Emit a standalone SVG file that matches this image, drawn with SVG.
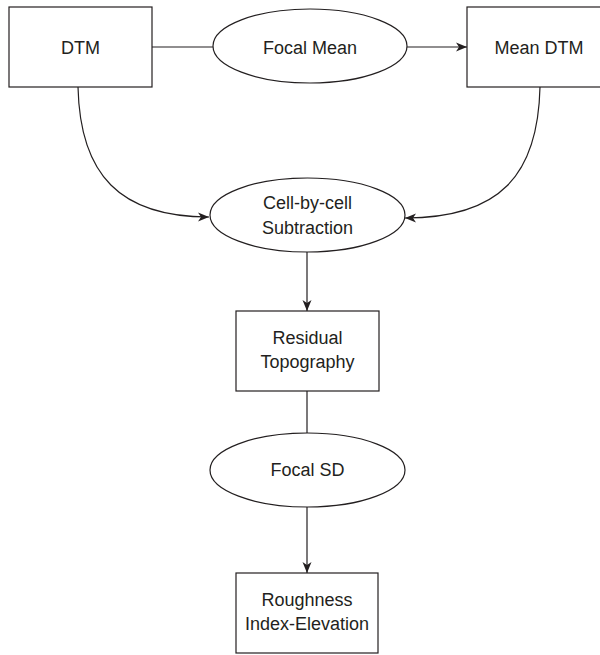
<svg xmlns="http://www.w3.org/2000/svg" width="600" height="655" viewBox="0 0 600 655">
<style>
.box{fill:#fff;stroke:#231f20;stroke-width:1.2}
.el{fill:#fff;stroke:#231f20;stroke-width:1.2}
.ln{fill:none;stroke:#231f20;stroke-width:1.2}
text{font-family:"Liberation Sans",Arial,sans-serif;font-size:18px;fill:#231f20;text-anchor:middle}
</style>
<defs>
<marker id="ah" markerWidth="12" markerHeight="10" refX="11" refY="5" orient="auto" markerUnits="userSpaceOnUse">
<path d="M0,0.5 L11,5 L0,9.5 L3,5 z" fill="#231f20"/>
</marker>
</defs>
<rect width="600" height="655" fill="#fff"/>
<g id="connectors">
<line class="ln" x1="152" y1="47" x2="213" y2="47"/>
<line class="ln" x1="407" y1="47" x2="467" y2="47" marker-end="url(#ah)"/>
<path class="ln" d="M78,87 C80,175 120,217 209,217" marker-end="url(#ah)"/>
<path class="ln" d="M540,87 C538,175 500,218 405,218" marker-end="url(#ah)"/>
<line class="ln" x1="307" y1="252" x2="307" y2="311" marker-end="url(#ah)"/>
<line class="ln" x1="307" y1="391" x2="307" y2="433"/>
<line class="ln" x1="307" y1="507" x2="307" y2="573" marker-end="url(#ah)"/>
</g>
<g id="dtm">
<rect class="box" x="9" y="7" width="143" height="80"/>
<text x="80.5" y="54">DTM</text>
</g>
<g id="focal-mean">
<ellipse class="el" cx="310" cy="46" rx="97" ry="37"/>
<text x="310" y="54">Focal Mean</text>
</g>
<g id="mean-dtm">
<rect class="box" x="467" y="7" width="144" height="80"/>
<text x="539" y="54">Mean DTM</text>
</g>
<g id="cell-by-cell">
<ellipse class="el" cx="307.5" cy="215" rx="97.5" ry="37"/>
<text x="307.5" y="209">Cell-by-cell</text>
<text x="307.5" y="234">Subtraction</text>
</g>
<g id="residual">
<rect class="box" x="236" y="311" width="143" height="80"/>
<text x="307.5" y="344">Residual</text>
<text x="307.5" y="368">Topography</text>
</g>
<g id="focal-sd">
<ellipse class="el" cx="307.5" cy="470" rx="97.5" ry="37"/>
<text x="307.5" y="476">Focal SD</text>
</g>
<g id="roughness">
<rect class="box" x="236" y="573" width="142" height="80"/>
<text x="307" y="606">Roughness</text>
<text x="307" y="630">Index-Elevation</text>
</g>
</svg>
